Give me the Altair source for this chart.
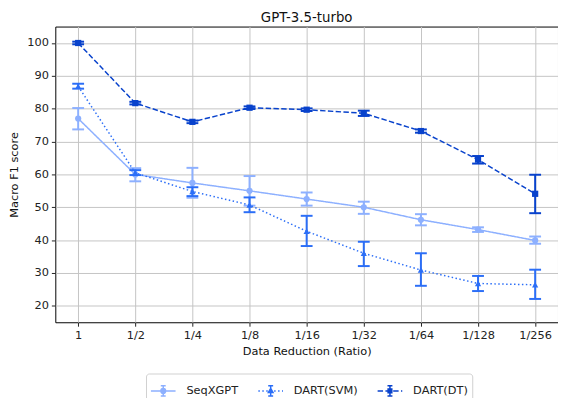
import altair as alt
import pandas as pd

# ---- data ----
ratio_labels = ["1", "1/2", "1/4", "1/8", "1/16", "1/32", "1/64", "1/128", "1/256"]
series_names = ["SeqXGPT", "DART(SVM)", "DART(DT)"]

seq_mean = [77.0, 60.0, 57.4, 55.0, 52.5, 50.0, 46.2, 43.2, 39.9]
seq_lo = [73.7, 57.9, 52.9, 50.5, 50.5, 48.0, 44.5, 42.5, 38.9]
seq_hi = [80.2, 61.9, 62.0, 59.5, 54.5, 51.7, 47.9, 43.9, 41.1]

svm_mean = [86.8, 60.5, 54.8, 50.7, 42.7, 36.0, 30.9, 26.8, 26.4]
svm_lo = [86.1, 59.8, 53.4, 48.5, 38.2, 32.1, 26.1, 24.5, 22.1]
svm_hi = [87.6, 61.3, 56.1, 53.0, 47.4, 39.5, 36.0, 29.1, 31.0]

dt_mean = [100.0, 81.7, 76.0, 80.3, 79.7, 78.6, 73.2, 64.5, 54.1]
dt_lo = [99.6, 81.3, 75.6, 79.9, 79.3, 77.8, 72.7, 63.3, 48.2]
dt_hi = [100.4, 82.1, 76.4, 80.7, 80.1, 79.4, 73.7, 65.6, 59.9]

# ---- styles ----
colors = ["#8db0ff", "#2b6ef7", "#0842cc"]
dashes = [[1, 0], [1.5, 2.5], [5.5, 2.4]]
shapes = ["circle", "triangle-up", "square"]
FONT = "DejaVu Sans"

rows = []
for name, m, lo, hi in [
    (series_names[0], seq_mean, seq_lo, seq_hi),
    (series_names[1], svm_mean, svm_lo, svm_hi),
    (series_names[2], dt_mean, dt_lo, dt_hi),
]:
    for i, lab in enumerate(ratio_labels):
        rows.append({"series": name, "xi": i, "ratio": lab,
                     "mean": m[i], "lo": lo[i], "hi": hi[i]})
df = pd.DataFrame(rows)

label_expr = "[" + ",".join('"%s"' % l for l in ratio_labels) + "][datum.value]"

x_axis = alt.Axis(values=list(range(len(ratio_labels))), labelExpr=label_expr,
                  title="Data Reduction (Ratio)")
x_enc = alt.X("xi:Q",
              scale=alt.Scale(domain=[-0.4, 8.4], nice=False, zero=False),
              axis=x_axis)
y_scale = alt.Scale(domain=[15, 105], nice=False, zero=False)
y_axis = alt.Axis(values=list(range(20, 101, 10)), tickCount=9, title="Macro F1 score")


def Y(field):
    return alt.Y(field, scale=y_scale, axis=y_axis)


# ---- legend symbols (line + error bar + marker), unit box [-1,1] ----
def line_segments(dash, gap):
    if gap == 0:
        return "M-1,0H1"
    segs = []
    x = -1.0
    while x < 1.0:
        x2 = min(x + dash, 1.0)
        segs.append("M%.3f,0H%.3f" % (x, x2))
        x = x2 + gap
    return "".join(segs)


bar = "M0,-0.42V0.42M-0.2,-0.42H0.2M-0.2,0.42H0.2"
markers = [
    "M0.19,0A0.19,0.19 0 1,1 -0.19,0A0.19,0.19 0 1,1 0.19,0Z",
    "M0,-0.2L0.19,0.13L-0.19,0.13Z",
    "M-0.15,-0.15H0.15V0.15H-0.15Z",
]
unit = 12.5  # px per unit for a 25px symbol
legend_paths = [
    line_segments(1.0, 0) + bar + markers[0],
    line_segments(1.5 / unit, 2.5 / unit) + bar + markers[1],
    line_segments(5.5 / unit, 2.4 / unit) + bar + markers[2],
]

layers = []
for k, name in enumerate(series_names):
    base = alt.Chart(df).transform_filter(alt.datum.series == name)
    col = colors[k]
    line = base.mark_line(color=col, strokeWidth=1.5, strokeDash=dashes[k]).encode(
        x=x_enc, y=Y("mean:Q"))
    rule = base.mark_rule(color=col, strokeWidth=2).encode(
        x=x_enc, y=Y("lo:Q"), y2="hi:Q")
    cap_lo = base.mark_tick(color=col, orient="horizontal", size=12, thickness=2,
                            opacity=1).encode(x=x_enc, y=Y("lo:Q"))
    cap_hi = base.mark_tick(color=col, orient="horizontal", size=12, thickness=2,
                            opacity=1).encode(x=x_enc, y=Y("hi:Q"))
    pts = base.mark_point(filled=True, shape=shapes[k], size=40, color=col,
                          opacity=1).encode(x=x_enc, y=Y("mean:Q"))
    layers += [line, rule, cap_lo, cap_hi, pts]

leg = alt.Legend(title=None, orient="none", legendX=92, legendY=352,
                 direction="horizontal", columns=3, symbolSize=625,
                 symbolStrokeWidth=1.5, symbolOpacity=1, labelFontSize=11.5,
                 labelFont=FONT, labelColor="#222", labelOffset=10,
                 columnPadding=17, padding=4, strokeColor="#d0d0d0",
                 cornerRadius=3, fillColor="white")

proxy = alt.Chart(df).mark_point(filled=True, opacity=0, size=625, strokeWidth=1.5).encode(
    x=x_enc,
    y=Y("mean:Q"),
    color=alt.Color("series:N", scale=alt.Scale(domain=series_names, range=colors),
                    sort=series_names, legend=leg),
    stroke=alt.Stroke("series:N", scale=alt.Scale(domain=series_names, range=colors),
                      sort=series_names, legend=leg),
    shape=alt.Shape("series:N", scale=alt.Scale(domain=series_names, range=legend_paths),
                    sort=series_names, legend=leg),
)

chart = alt.layer(*layers, proxy).properties(
    width=510, height=300,
    title=alt.TitleParams("GPT-3.5-turbo", font=FONT, fontSize=13.5,
                          fontWeight="normal", color="#111", offset=2),
    autosize=alt.AutoSizeParams(type="none"),
    padding={"left": 48, "top": 16, "right": 0, "bottom": 74},
).configure_view(
    stroke="black", strokeWidth=1
).configure_axis(
    domain=False, grid=True, gridColor="#c4c4c4", gridWidth=1,
    tickColor="#222", tickSize=4, tickWidth=1, labelPadding=3,
    labelFont=FONT, labelFontSize=11.5, labelColor="#222",
    titleFont=FONT, titleFontSize=11.5, titleFontWeight="normal", titleColor="#111",
).configure_axisY(
    titlePadding=7
).configure_axisX(
    titlePadding=5
)

chart.save("out.html", embed_options={"renderer": "svg", "actions": False})
